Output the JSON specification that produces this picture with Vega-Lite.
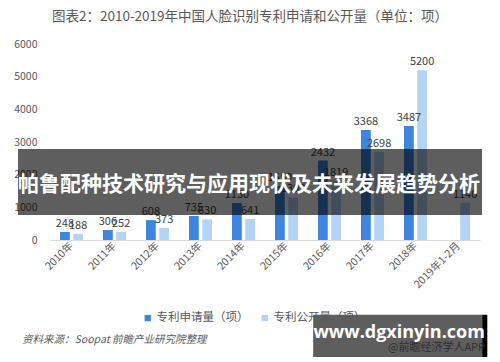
{
  "$schema": "https://vega.github.io/schema/vega-lite/v6.json",
  "width": 430,
  "height": 196,
  "autosize": {"type": "none"},
  "padding": {"left": 50, "top": 44, "right": 20, "bottom": 122},
  "background": "white",
  "config": {"view": {"stroke": null}, "font": "Noto Sans CJK SC"},
  "title": {
    "text": "图表2：2010-2019年中国人脸识别专利申请和公开量（单位：项）",
    "fontSize": 13.5,
    "fontWeight": "normal",
    "color": "#595959",
    "anchor": "middle",
    "frame": "group",
    "offset": 16,
    "dx": -15
  },
  "layer": [
    {
      "data": {
        "values": [
          {"year": "2010年", "series": "专利申请量（项）", "value": 248},
          {"year": "2010年", "series": "专利公开量（项）", "value": 188},
          {"year": "2011年", "series": "专利申请量（项）", "value": 306},
          {"year": "2011年", "series": "专利公开量（项）", "value": 252},
          {"year": "2012年", "series": "专利申请量（项）", "value": 608},
          {"year": "2012年", "series": "专利公开量（项）", "value": 373},
          {"year": "2013年", "series": "专利申请量（项）", "value": 735},
          {"year": "2013年", "series": "专利公开量（项）", "value": 630},
          {"year": "2014年", "series": "专利申请量（项）", "value": 1130},
          {"year": "2014年", "series": "专利公开量（项）", "value": 641},
          {"year": "2015年", "series": "专利申请量（项）", "value": 1650},
          {"year": "2015年", "series": "专利公开量（项）", "value": 1303},
          {"year": "2016年", "series": "专利申请量（项）", "value": 2432},
          {"year": "2016年", "series": "专利公开量（项）", "value": 1819},
          {"year": "2017年", "series": "专利申请量（项）", "value": 3368},
          {"year": "2017年", "series": "专利公开量（项）", "value": 2698},
          {"year": "2018年", "series": "专利申请量（项）", "value": 3487},
          {"year": "2018年", "series": "专利公开量（项）", "value": 5200},
          {"year": "2019年1-2月", "series": "专利公开量（项）", "value": 1140}
        ]
      },
      "encoding": {
        "x": {
          "field": "year",
          "type": "nominal",
          "sort": null,
          "scale": {"paddingInner": 0.465, "paddingOuter": 0.2325},
          "axis": {
            "title": null,
            "labelAngle": -45,
            "labelAlign": "right",
            "labelBaseline": "middle",
            "domainColor": "#d9d9d9",
            "ticks": false,
            "labelPadding": 4,
            "labelFontSize": 10.5,
            "labelColor": "#595959"
          }
        },
        "xOffset": {"field": "series", "sort": null, "scale": {"paddingInner": 0.26}},
        "y": {
          "field": "value",
          "type": "quantitative",
          "scale": {"domain": [0, 6000]},
          "axis": {
            "title": null,
            "values": [0, 1000, 2000, 3000, 4000, 5000, 6000],
            "format": "d",
            "domain": false,
            "ticks": false,
            "grid": false,
            "labelPadding": 13,
            "labelFontSize": 10.5,
            "labelColor": "#595959"
          }
        }
      },
      "layer": [
        {
          "mark": {"type": "bar"},
          "encoding": {
            "color": {
              "field": "series",
              "type": "nominal",
              "sort": null,
              "scale": {"range": ["#3E85E0", "#B3D3F7"]},
              "legend": {
                "orient": "none",
                "legendX": 92,
                "legendY": 268,
                "direction": "horizontal",
                "title": null,
                "symbolType": "square",
                "symbolSize": 40,
                "symbolStrokeWidth": 0,
                "labelFontSize": 11.5,
                "labelColor": "#595959",
                "labelOffset": 3,
                "columnPadding": 10
              }
            }
          }
        },
        {
          "mark": {"type": "text", "dy": -8, "fontSize": 11, "color": "#404040"},
          "encoding": {"text": {"field": "value", "type": "quantitative", "format": "d"}}
        }
      ]
    },
    {
      "encoding": {},
      "layer": [
        {
          "data": {"values": [{"label": "资料来源：Soopat 前瞻产业研究院整理"}]},
          "mark": {"type": "text", "align": "left", "baseline": "middle", "fontSize": 10.5, "fontStyle": "italic", "color": "#595959"},
          "encoding": {
            "x": {"datum": -0.065, "type": "quantitative", "scale": {"domain": [0, 1], "nice": false, "zero": false}, "axis": null},
            "y": {"datum": -3060, "type": "quantitative", "scale": {"domain": [0, 6000]}, "axis": null},
            "text": {"field": "label"}
          }
        },
        {
          "data": {"values": [{"label": "banner"}]},
          "mark": {"type": "rect", "color": "black", "opacity": 0.63},
          "encoding": {
            "x": {"datum": -0.0744, "type": "quantitative", "scale": {"domain": [0, 1], "nice": false, "zero": false}, "axis": null},
            "x2": {"datum": 1.0047},
            "y": {"datum": 765, "type": "quantitative", "scale": {"domain": [0, 6000]}, "axis": null},
            "y2": {"datum": 2785}
          }
        },
        {
          "data": {"values": [{"label": "帕鲁配种技术研究与应用现状及未来发展趋势分析"}]},
          "mark": {"type": "text", "align": "center", "baseline": "middle", "fontSize": 21, "fontWeight": "bold", "color": "white"},
          "encoding": {
            "x": {"datum": 0.463, "type": "quantitative", "scale": {"domain": [0, 1], "nice": false, "zero": false}, "axis": null},
            "y": {"datum": 1680, "type": "quantitative", "scale": {"domain": [0, 6000]}, "axis": null},
            "text": {"field": "label"}
          }
        },
        {
          "data": {"values": [{"label": "box"}]},
          "mark": {"type": "rect", "color": "black", "opacity": 0.63},
          "encoding": {
            "x": {"datum": 0.612, "type": "quantitative", "scale": {"domain": [0, 1], "nice": false, "zero": false}, "axis": null},
            "x2": {"datum": 1.005},
            "y": {"datum": -2290, "type": "quantitative", "scale": {"domain": [0, 6000]}, "axis": null},
            "y2": {"datum": -3580}
          }
        },
        {
          "data": {"values": [{"label": "edge"}]},
          "mark": {"type": "rect", "color": "black"},
          "encoding": {
            "x": {"datum": 1.005, "type": "quantitative", "scale": {"domain": [0, 1], "nice": false, "zero": false}, "axis": null},
            "x2": {"datum": 1.017},
            "y": {"datum": -2290, "type": "quantitative", "scale": {"domain": [0, 6000]}, "axis": null},
            "y2": {"datum": -3580}
          }
        },
        {
          "data": {"values": [{"label": "@前瞻经济学人APP"}]},
          "mark": {"type": "text", "align": "left", "baseline": "middle", "fontSize": 11, "color": "#2f2f2f"},
          "encoding": {
            "x": {"datum": 0.786, "type": "quantitative", "scale": {"domain": [0, 1], "nice": false, "zero": false}, "axis": null},
            "y": {"datum": -3300, "type": "quantitative", "scale": {"domain": [0, 6000]}, "axis": null},
            "text": {"field": "label"}
          }
        },
        {
          "data": {"values": [{"label": "www.dgxinyin.com"}]},
          "mark": {"type": "text", "align": "center", "baseline": "middle", "fontSize": 18, "fontWeight": "bold", "color": "white", "font": "Open Sans"},
          "encoding": {
            "x": {"datum": 0.812, "type": "quantitative", "scale": {"domain": [0, 1], "nice": false, "zero": false}, "axis": null},
            "y": {"datum": -2840, "type": "quantitative", "scale": {"domain": [0, 6000]}, "axis": null},
            "text": {"field": "label"}
          }
        }
      ]
    }
  ],
  "resolve": {"scale": {"x": "independent", "y": "independent"}, "axis": {"x": "independent", "y": "independent"}}
}
